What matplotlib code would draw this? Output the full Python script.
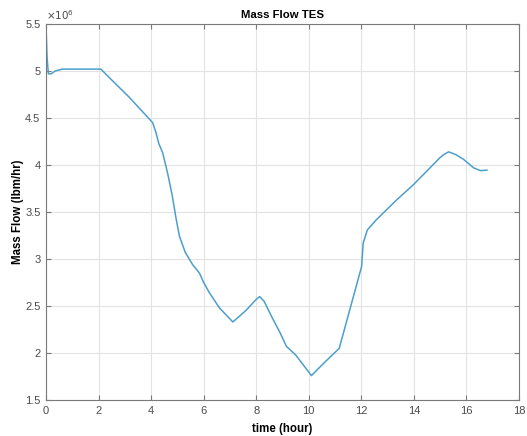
import matplotlib
matplotlib.use('Agg')
import matplotlib.pyplot as plt
from matplotlib.ticker import FuncFormatter

plt.rcParams['font.family'] = ['Liberation Sans', 'DejaVu Sans']

# time (hour) and mass flow (x 1e6 lbm/hr)
time_h = [0.0, 0.04, 0.09, 0.2, 0.35, 0.62, 1.0, 1.5, 2.09, 2.3, 3.17, 4.06,
          4.19, 4.29, 4.44, 4.63, 4.80, 4.95, 5.08, 5.3, 5.58, 5.84, 6.0, 6.22,
          6.6, 7.11, 7.6, 8.0, 8.13, 8.3, 8.6, 8.9, 9.15, 9.5, 10.1, 10.6,
          11.16, 11.56, 12.01, 12.07, 12.23, 12.58, 13.35, 13.98, 15.0, 15.13,
          15.32, 15.6, 15.89, 16.27, 16.53, 16.78]
mass_flow = [5.48, 5.15, 4.97, 4.97, 5.0, 5.02, 5.02, 5.02, 5.02, 4.96, 4.72, 4.45,
             4.34, 4.23, 4.13, 3.91, 3.68, 3.43, 3.24, 3.07, 2.94, 2.85, 2.75, 2.64,
             2.48, 2.33, 2.45, 2.57, 2.60, 2.55, 2.38, 2.22, 2.07, 1.98, 1.76, 1.90,
             2.05, 2.46, 2.92, 3.17, 3.31, 3.42, 3.63, 3.79, 4.08, 4.11,
             4.14, 4.11, 4.06, 3.97, 3.94, 3.945]

xticks = list(range(0, 19, 2))
yticks = [1.5, 2, 2.5, 3, 3.5, 4, 4.5, 5, 5.5]

fig = plt.figure(figsize=(5.27, 4.36), dpi=100)
ax = fig.add_axes([46 / 527, 36 / 436, 473 / 527, 376 / 436])

ax.plot(time_h, mass_flow, color='#4d9fcb', lw=1.1)

ax.set_xlim(0, 18)
ax.set_ylim(1.5, 5.5)
ax.set_xticks(xticks)
ax.set_yticks(yticks)
ax.yaxis.set_major_formatter(FuncFormatter(lambda v, p: '%g' % v))

ax.grid(True, color='#e3e3e3', lw=0.8)
ax.set_axisbelow(True)
for s in ax.spines.values():
    s.set_color('#7a7a7a')
    s.set_linewidth(0.8)
ax.tick_params(direction='in', length=3.5, width=0.8, color='#7a7a7a',
               labelcolor='#4a4a4a', labelsize=8, top=True, right=True, pad=4)

ax.set_title('Mass Flow TES', fontsize=8.2, fontweight='bold', pad=4)
ax.set_xlabel('time (hour)', fontsize=8.3, fontweight='bold', labelpad=5)
ax.set_ylabel('Mass Flow (lbm/hr)', fontsize=8.3, fontweight='bold', labelpad=1)
ax.text(0.0, 1.004, r'$\times10^{6}$', transform=ax.transAxes, fontsize=7.5,
        color='#4a4a4a', ha='left', va='bottom')

fig.savefig('out.png', dpi=100, facecolor='white')
